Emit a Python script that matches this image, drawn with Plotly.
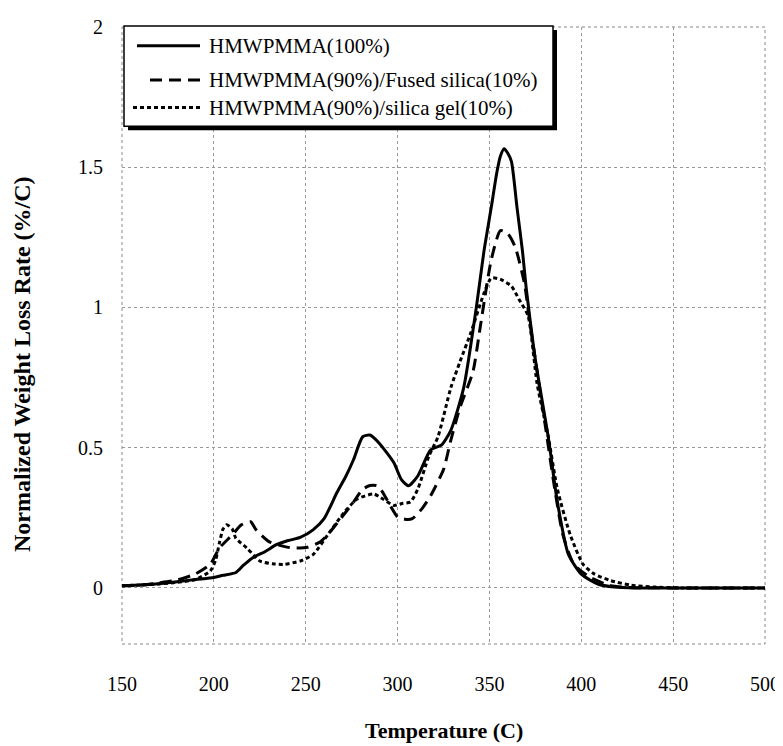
import plotly.graph_objects as go

# ---- data ----
pure_x = [150,160,170,180,190,200,205,212,216,221,228,234,240,247,254,260,267,272,276,281,285,290,298,302,306,311,318,324,329,336,343,347,351,354,356,358,360,362,365,368,370,374,376,382,387,393,400,409,418,430,450,500]
pure_y = [0.008,0.01,0.015,0.022,0.03,0.037,0.045,0.055,0.08,0.107,0.13,0.154,0.168,0.18,0.207,0.247,0.34,0.4,0.457,0.539,0.545,0.516,0.446,0.387,0.364,0.399,0.492,0.51,0.562,0.714,1.006,1.2,1.357,1.48,1.54,1.566,1.55,1.52,1.357,1.2,1.07,0.86,0.772,0.539,0.306,0.119,0.049,0.014,0.003,0,0,0]

fused_x = [150,160,170,180,190,198,203,210,215,220,223,230,237,243,251,258,262,269,276,281,285,289,292,296,300,304,308,313,318,325,329,334,341,345,351,356,360,364,369,372,376,380,385,390,396,405,415,425,450,500]
fused_y = [0.008,0.01,0.018,0.028,0.05,0.084,0.142,0.189,0.225,0.236,0.207,0.165,0.15,0.142,0.145,0.165,0.19,0.247,0.306,0.352,0.365,0.364,0.34,0.294,0.253,0.245,0.247,0.28,0.329,0.422,0.527,0.644,0.77,0.93,1.17,1.274,1.263,1.216,1.088,0.947,0.77,0.597,0.376,0.189,0.084,0.037,0.01,0.002,0,0]

gel_x = [150,160,170,180,190,198,201,203,205,207,210,212,218,225,232,238,247,254,262,271,278,287,292,298,303,307,311,317,322,329,334,340,347,351,356,362,366,371,376,382,387,394,401,407,416,427,440,455,500]
gel_y = [0.008,0.01,0.014,0.02,0.03,0.06,0.1,0.16,0.21,0.225,0.21,0.177,0.142,0.096,0.086,0.084,0.096,0.119,0.189,0.27,0.317,0.335,0.317,0.294,0.302,0.306,0.352,0.469,0.539,0.714,0.807,0.912,1.05,1.105,1.1,1.076,1.03,0.971,0.726,0.54,0.352,0.189,0.084,0.05,0.026,0.01,0.003,0,0]

series_names = ["HMWPMMA(100%)", "HMWPMMA(90%)/Fused silica(10%)", "HMWPMMA(90%)/silica gel(10%)"]
x_ticks = [150, 200, 250, 300, 350, 400, 450, 500]
y_ticks = [0, 0.5, 1, 1.5, 2]

SERIF = "Liberation Serif, Times New Roman, serif"
dashes = ["solid", "12px,7px", "4px,3px"]

fig = go.Figure()
for xs, ys, name, d in zip([pure_x, fused_x, gel_x], [pure_y, fused_y, gel_y], series_names, dashes):
    fig.add_trace(go.Scatter(x=xs, y=ys, mode="lines", name=name, showlegend=False,
                             line=dict(color="black", width=3, dash=d, shape="spline", smoothing=0.6)))

W, H = 783, 746
OFF = 8  # page body margin
L, R, T, B = 114, 26, 8, 110
pw, ph = W - L - R, H - T - B

def px(x):
    return (x - OFF - L) / pw

def py(y):
    return (H - B - (y - OFF)) / ph

shapes = []
# plot frame, dotted
shapes.append(dict(type="rect", xref="paper", yref="paper", x0=0, x1=1, y0=0, y1=1,
                   line=dict(color="#888", width=1, dash="dot"), layer="below"))
# legend shadow + box
shapes.append(dict(type="rect", xref="paper", yref="paper", x0=px(128), x1=px(557), y0=py(121), y1=py(19),
                   fillcolor="black", line=dict(width=0)))
shapes.append(dict(type="rect", xref="paper", yref="paper", x0=px(124), x1=px(553), y0=py(117), y1=py(15),
                   fillcolor="white", line=dict(color="black", width=1.5)))
rows = [(137, 35), (150, 70), (133, 98)]
annotations = []
for (sx, ry), name, d in zip(rows, series_names, dashes):
    shapes.append(dict(type="line", xref="paper", yref="paper", x0=px(sx), x1=px(200), y0=py(ry), y1=py(ry),
                       line=dict(color="black", width=3, dash=d)))
    annotations.append(dict(text=name, xref="paper", yref="paper", x=px(207), y=py(ry), xanchor="left",
                            yanchor="middle", showarrow=False, font=dict(family=SERIF, size=21, color="black")))

annotations.append(dict(text="<b>Temperature (C)</b>", xref="paper", yref="paper", x=0.5, y=py(732),
                        xanchor="center", yanchor="middle", showarrow=False,
                        font=dict(family=SERIF, size=22, color="black")))
annotations.append(dict(text="<b>Normalized Weight Loss Rate (%/C)</b>", xref="paper", yref="paper",
                        x=px(22), y=py(359), xanchor="center", yanchor="middle", textangle=-90, showarrow=False,
                        font=dict(family=SERIF, size=24, color="black")))

fig.update_layout(
    width=W, height=H, margin=dict(l=L, r=R, t=T, b=B),
    paper_bgcolor="white", plot_bgcolor="white",
    shapes=shapes, annotations=annotations, showlegend=False,
    font=dict(family=SERIF, size=20, color="black"),
)
fig.update_xaxes(range=[150, 500], tickvals=x_ticks, showgrid=True, gridcolor="#999",
                 griddash="dot", gridwidth=1, zeroline=False, showline=False, ticks="",
                 ticklabelstandoff=26, ticklabeloverflow="allow",
                 tickfont=dict(family=SERIF, size=20, color="black"))
fig.update_yaxes(range=[-0.2, 2], tickvals=y_ticks, showgrid=True, gridcolor="#999",
                 griddash="dot", gridwidth=1, zeroline=False, showline=False, ticks="",
                 ticklabelstandoff=18, ticklabeloverflow="allow",
                 tickfont=dict(family=SERIF, size=20, color="black"))

fig.write_html("out.html")
